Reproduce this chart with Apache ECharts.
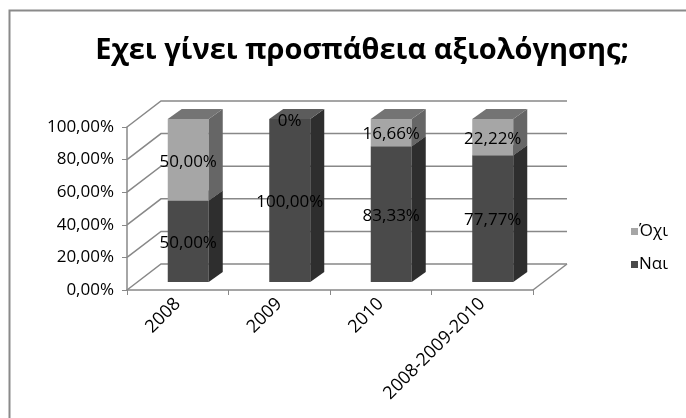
<!DOCTYPE html>
<html lang="el">
<head>
<meta charset="UTF-8">
<title>Εχει γίνει προσπάθεια αξιολόγησης;</title>
<script src="https://cdn.jsdelivr.net/npm/echarts@6/dist/echarts.min.js"></script>
</head>
<body style="margin:0;background:#fff;">
<div id="main" style="width:686px;height:418px;"></div>
<script>
// δεδομένα
var categories = ['2008', '2009', '2010', '2008-2009-2010'];
var nai = [50, 100, 83.33, 77.77];
var oxi = [50, 0, 16.66, 22.22];
var yTicks = [0, 20, 40, 60, 80, 100];

var FONT = '"Open Sans", "DejaVu Sans", sans-serif';
// ψευδο-3D
var WX = 34, WY = -26;      // βάθος τοίχου
var BW = 41, OX = 10.5, OY = -8, DX = 14, DY = -10; // στήλες

function pct(v) {
    return v.toFixed(2).replace('.', ',') + '%';
}
function fmt(v) {
    return v === 0 ? '0%' : pct(v);
}

function barRender(colors) {
    return function (params, api) {
        var i = api.value(0), lo = api.value(1), hi = api.value(2);
        var c0 = api.coord([i, lo]);
        var c1 = api.coord([i, hi]);
        var x0 = c0[0] - BW / 2 + OX;
        var yb = c0[1] + OY;
        var yt = c1[1] + OY;
        var children = [];
        if (hi - lo > 0) {
            children.push({
                type: 'rect',
                shape: { x: x0, y: yt, width: BW, height: yb - yt },
                style: { fill: colors[0] }
            });
            children.push({
                type: 'polygon',
                shape: { points: [[x0 + BW, yb], [x0 + BW + DX, yb + DY], [x0 + BW + DX, yt + DY], [x0 + BW, yt]] },
                style: { fill: colors[1] }
            });
            children.push({
                type: 'polygon',
                shape: { points: [[x0, yt], [x0 + BW, yt], [x0 + BW + DX, yt + DY], [x0 + DX, yt + DY]] },
                style: { fill: colors[2] }
            });
        }
        children.push({
            type: 'text',
            z2: 10,
            style: {
                x: x0 + BW / 2, y: (yb + yt) / 2 + 2,
                text: fmt(hi - lo),
                align: 'center', verticalAlign: 'middle',
                fill: '#000', font: '17px ' + FONT
            }
        });
        return { type: 'group', children: children };
    };
}

var naiData = categories.map(function (c, i) { return [i, 0, nai[i]]; });
var oxiData = categories.map(function (c, i) { return [i, nai[i], nai[i] + oxi[i]]; });

var myChart = echarts.init(document.getElementById('main'));
myChart.setOption({
    animation: false,
    backgroundColor: '#fff',
    title: {
        text: 'Εχει γίνει προσπάθεια αξιολόγησης;',
        left: 357,
        textAlign: 'center',
        top: 31,
        textStyle: { fontFamily: FONT, fontWeight: 'bold', fontSize: 29, color: '#000' }
    },
    graphic: [{
        type: 'rect',
        left: 7, top: 8,
        shape: { width: 700, height: 430 },
        style: { fill: 'none', stroke: '#8a8a8a', lineWidth: 2 }
    }],
    legend: {
        orient: 'vertical',
        left: 626, top: 218,
        itemWidth: 7, itemHeight: 7, itemGap: 16,
        icon: 'rect',
        data: ['Όχι', 'Ναι'],
        textStyle: { fontFamily: FONT, fontSize: 17, color: '#000', padding: [0, 0, 0, -4] }
    },
    grid: { left: 127, right: 153, top: 127, bottom: 128 },
    xAxis: {
        type: 'category',
        data: categories,
        axisLine: { lineStyle: { color: '#888', width: 1.5 } },
        axisTick: { show: true, length: 5, lineStyle: { color: '#888' } },
        axisLabel: { rotate: 45, margin: 11, fontFamily: FONT, fontSize: 18, color: '#000' }
    },
    yAxis: {
        type: 'value',
        min: 0, max: 100, interval: 20,
        axisLine: { show: true, lineStyle: { color: '#888', width: 1.5 } },
        axisTick: { show: true, length: 5, lineStyle: { color: '#888' } },
        splitLine: { show: false },
        axisLabel: { margin: 13, fontFamily: FONT, fontSize: 17, color: '#000', formatter: pct }
    },
    series: [{
        type: 'custom',
        name: 'walls',
        silent: true,
        data: yTicks,
        encode: { y: 0 },
        renderItem: function (params, api) {
            var y = api.coord([0, api.value(0)])[1];
            var L = params.coordSys.x;
            var R = L + params.coordSys.width;
            var lines = [{
                type: 'polyline',
                shape: { points: [[L, y], [L + WX, y + WY], [R + WX, y + WY]] },
                style: { stroke: '#888', lineWidth: 1.5, fill: null }
            }];
            if (api.value(0) === 0) {
                lines.push({
                    type: 'line',
                    shape: { x1: R, y1: y, x2: R + WX, y2: y + WY },
                    style: { stroke: '#888', lineWidth: 1.5 }
                });
            }
            return { type: 'group', children: lines };
        }
    }, {
        type: 'custom',
        name: 'Ναι',
        itemStyle: { color: '#4a4a4a' },
        data: naiData,
        encode: { x: 0, y: [1, 2] },
        renderItem: barRender(['#4a4a4a', '#2e2e2e', '#5c5c5c'])
    }, {
        type: 'custom',
        name: 'Όχι',
        itemStyle: { color: '#a6a6a6' },
        data: oxiData,
        encode: { x: 0, y: [1, 2] },
        renderItem: barRender(['#a6a6a6', '#666666', '#747474'])
    }]
});
</script>
</body>
</html>
